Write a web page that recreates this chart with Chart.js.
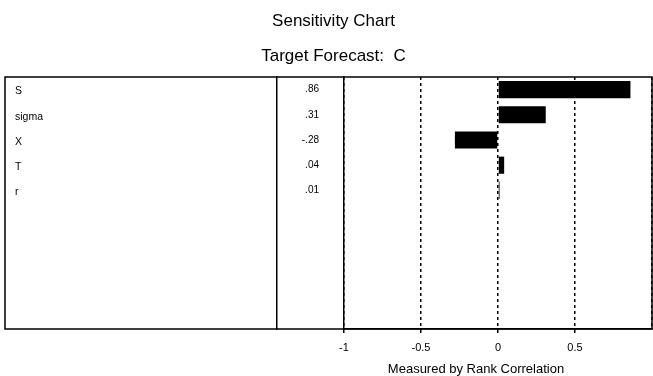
<!DOCTYPE html>
<html>
<head>
<meta charset="utf-8">
<script src="https://cdn.jsdelivr.net/npm/chart.js@4/dist/chart.umd.min.js"></script>
<style>
  html, body { margin: 0; padding: 0; background: #fff; }
  #wrap { width: 653px; height: 376px; }
</style>
</head>
<body>
<div id="wrap"><canvas id="c" width="653" height="376"></canvas></div>
<script>
// ---- data ----
const chartTitle = 'Sensitivity Chart';
const chartSubtitle = 'Target Forecast:  C';
const axisTitle = 'Measured by Rank Correlation';
const categories = ['S', 'sigma', 'X', 'T', 'r'];
const correlations = [0.86, 0.31, -0.28, 0.04, 0.01];
const valueLabels = ['.86', '.31', '-.28', '.04', '.01'];
const rowCount = 10;            // the table has 10 rows, 5 of them empty
const xMin = -1, xMax = 1, xStep = 0.5;
const hiddenTickValues = [1];   // the right end has no tick label

// ---- helpers ----
const pad = (arr, fill) => arr.concat(Array(rowCount - arr.length).fill(fill));
const FONT = "'Liberation Sans', Arial, Helvetica, sans-serif";
Chart.defaults.font.family = FONT;
Chart.defaults.color = '#000';

const framePlugin = {
  id: 'frame',
  afterDraw(chart, args, o) {
    const { ctx, chartArea: a } = chart;
    ctx.save();
    ctx.strokeStyle = o.color;
    ctx.lineWidth = o.width;
    ctx.strokeRect(o.left, a.top, a.right - o.left, a.bottom - a.top);
    ctx.restore();
  }
};

const captionPlugin = {
  id: 'axisCaption',
  afterDraw(chart, args, o) {
    const s = chart.scales.x;
    const ctx = chart.ctx;
    ctx.save();
    ctx.font = o.size + 'px ' + FONT;
    ctx.fillStyle = o.color;
    ctx.textAlign = 'center';
    ctx.textBaseline = 'alphabetic';
    ctx.fillText(o.text, (s.left + s.right) / 2 + o.dx, s.bottom + o.dy);
    ctx.restore();
  }
};

new Chart(document.getElementById('c'), {
  type: 'bar',
  data: {
    labels: pad(categories, ''),
    datasets: [{
      data: pad(correlations, null),
      backgroundColor: '#000',
      borderWidth: 0,
      categoryPercentage: 1,
      barPercentage: 0.68
    }]
  },
  options: {
    responsive: false,
    animation: false,
    devicePixelRatio: 1,
    indexAxis: 'y',
    layout: { padding: { left: 15, right: 1, top: 0, bottom: 0 } },
    plugins: {
      legend: { display: false },
      tooltip: { enabled: false },
      title: {
        display: true, text: chartTitle, color: '#000',
        font: { size: 17, weight: 'normal' },
        padding: { top: 11.5, bottom: 14.4 }
      },
      subtitle: {
        display: true, text: chartSubtitle, color: '#000',
        font: { size: 17, weight: 'normal' },
        padding: { top: 0, bottom: 10.3 }
      },
      frame: { left: 5, color: '#000', width: 1.5 },
      axisCaption: { text: axisTitle, size: 13, color: '#000', dx: -22, dy: -3 }
    },
    scales: {
      x: {
        type: 'linear', position: 'bottom', min: xMin, max: xMax,
        ticks: {
          stepSize: xStep, color: '#000', padding: 8,
          font: { size: 11 },
          callback: (v) => hiddenTickValues.includes(v) ? '' : String(v)
        },
        grid: {
          color: '#000', lineWidth: 1.5, drawTicks: true, tickLength: 4, tickWidth: 1.5,
          tickColor: (c) => (c.tick && hiddenTickValues.includes(c.tick.value)) ? 'rgba(0,0,0,0)' : '#000'
        },
        border: { display: true, color: '#000', width: 1.5, dash: [3, 3] },
        afterFit: (s) => { s.height = 47; s.paddingLeft = 0; s.paddingRight = 0; }
      },
      y: {
        type: 'category', position: 'left', weight: 2, offset: true,
        grid: { display: false, drawTicks: false, offset: true },
        border: { display: true, color: '#000', width: 1.5 },
        ticks: { crossAlign: 'far', color: '#000', font: { size: 10.5 }, autoSkip: false, padding: 0, labelOffset: 2 },
        afterFit: (s) => { s.width = 262; }
      },
      yv: {
        type: 'category', position: 'left', weight: 1, offset: true,
        labels: pad(valueLabels, ''),
        grid: { display: false, drawTicks: false, offset: true },
        border: { display: true, color: '#000', width: 1.5 },
        ticks: { crossAlign: 'near', padding: 25, color: '#000', font: { size: 10 }, autoSkip: false },
        afterFit: (s) => { s.width = 67; }
      }
    }
  },
  plugins: [framePlugin, captionPlugin]
});
</script>
</body>
</html>
